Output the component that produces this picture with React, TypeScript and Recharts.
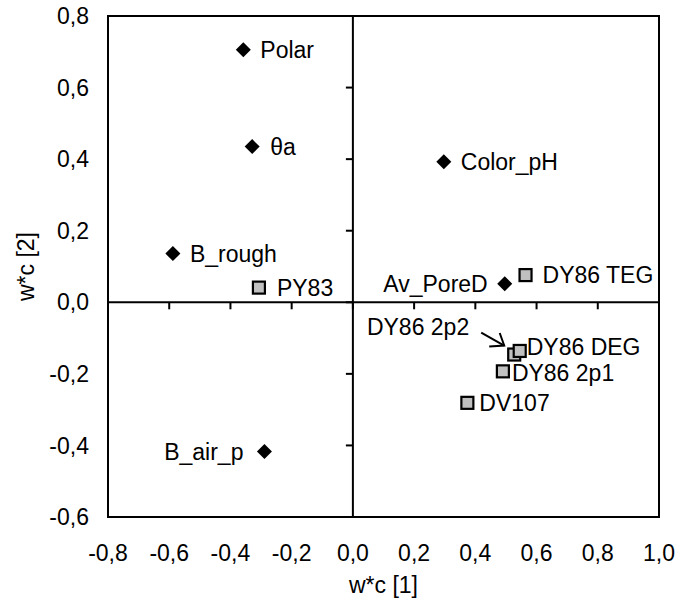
import React from 'react';
import { ScatterChart, Scatter, XAxis, YAxis, ReferenceLine, ReferenceArea, ReferenceDot } from 'recharts';

// Axis ticks
const xTicks = [-0.8, -0.6, -0.4, -0.2, 0, 0.2, 0.4, 0.6, 0.8, 1.0];
const yTicks = [-0.6, -0.4, -0.2, 0, 0.2, 0.4, 0.6, 0.8];

// Variable loadings (black diamonds)
const variableNames = ['Polar', 'θa', 'Color_pH', 'B_rough', 'Av_PoreD', 'B_air_p'];
const variableX = [-0.358, -0.329, 0.297, -0.588, 0.496, -0.289];
const variableY = [0.706, 0.435, 0.393, 0.136, 0.052, -0.417];

// Dye samples (grey squares)
const dyeNames = ['PY83', 'DY86 TEG', 'DY86 2p2', 'DY86 DEG', 'DY86 2p1', 'DV107'];
const dyeX = [-0.307, 0.564, 0.527, 0.545, 0.49, 0.374];
const dyeY = [0.041, 0.076, -0.146, -0.136, -0.193, -0.281];

const variableData = variableNames.map((name, i) => ({ name, x: variableX[i], y: variableY[i] }));
const dyeData = dyeNames.map((name, i) => ({ name, x: dyeX[i], y: dyeY[i] }));

const FONT = '"Liberation Sans", Arial, Helvetica, sans-serif';
const FONT_SIZE = 23;

type Placement = { dx: number; dy: number; anchor: 'start' | 'end'; arrow?: boolean };

// Where each point's name sits relative to its marker (pixels)
const labelPlacement: Record<string, Placement> = {
  Polar: { dx: 17, dy: 0, anchor: 'start' },
  'θa': { dx: 18, dy: 0, anchor: 'start' },
  Color_pH: { dx: 17, dy: 0, anchor: 'start' },
  B_rough: { dx: 17, dy: 0, anchor: 'start' },
  Av_PoreD: { dx: -17, dy: 0, anchor: 'end' },
  B_air_p: { dx: -21, dy: 0, anchor: 'end' },
  PY83: { dx: 18, dy: 0, anchor: 'start' },
  'DY86 TEG': { dx: 17, dy: 0, anchor: 'start' },
  'DY86 2p2': { dx: -45, dy: -28, anchor: 'end', arrow: true },
  'DY86 DEG': { dx: 7, dy: -4, anchor: 'start' },
  'DY86 2p1': { dx: 9, dy: 1, anchor: 'start' },
  DV107: { dx: 12, dy: 0, anchor: 'start' },
};

const fmt = (v: number) => v.toFixed(1).replace('.', ',');

const PointLabel = ({ name, cx, cy }: { name: string; cx: number; cy: number }) => {
  const p = labelPlacement[name] ?? { dx: 17, dy: 0, anchor: 'start' };
  return (
    <g>
      <text
        x={cx + p.dx}
        y={cy + p.dy}
        dy="0.36em"
        textAnchor={p.anchor}
        fontSize={FONT_SIZE}
        fontFamily={FONT}
        fill="#000"
      >
        {name}
      </text>
      {p.arrow && (
        <g stroke="#000" strokeWidth={2} fill="none">
          <line x1={cx - 33} y1={cy - 22} x2={cx - 10} y2={cy - 9} />
          <polyline points={`${cx - 14.5},${cy - 21.5} ${cx - 10},${cy - 9} ${cx - 25},${cy - 8}`} />
        </g>
      )}
    </g>
  );
};

const DiamondShape = (props: any) => {
  const { cx, cy, payload } = props;
  const r = 7.5;
  return (
    <g>
      <path d={`M${cx},${cy - r}L${cx + r},${cy}L${cx},${cy + r}L${cx - r},${cy}Z`} fill="#000" />
      <PointLabel name={payload.name} cx={cx} cy={cy} />
    </g>
  );
};

const SquareShape = (props: any) => {
  const { cx, cy, payload } = props;
  const s = 12;
  return (
    <g>
      <rect x={cx - s / 2} y={cy - s / 2} width={s} height={s} fill="#c0c0c0" stroke="#000" strokeWidth={2.2} />
      <PointLabel name={payload.name} cx={cx} cy={cy} />
    </g>
  );
};

const XTitle = (props: any) => {
  const vb = props.viewBox ?? { x: 108, y: 517, width: 551, height: 90 };
  return (
    <text
      x={vb.x + vb.width / 2}
      y={vb.y + 76}
      textAnchor="middle"
      fontSize={FONT_SIZE}
      fontFamily={FONT}
      fill="#000"
    >
      w*c [1]
    </text>
  );
};

const YTitle = (props: any) => {
  const vb = props.viewBox ?? { x: 0, y: 16, width: 108, height: 501 };
  const cx = 26;
  const cy = vb.y + vb.height / 2;
  return (
    <text
      x={cx}
      y={cy}
      dy="0.36em"
      transform={`rotate(-90 ${cx} ${cy})`}
      textAnchor="middle"
      fontSize={FONT_SIZE}
      fontFamily={FONT}
      fill="#000"
    >
      w*c [2]
    </text>
  );
};

const XTickMark = (props: any) => (
  <line x1={props.cx} y1={props.cy} x2={props.cx} y2={props.cy + 7} stroke="#000" strokeWidth={2} />
);
const YTickMark = (props: any) => (
  <line x1={props.cx} y1={props.cy} x2={props.cx - 7} y2={props.cy} stroke="#000" strokeWidth={2} />
);

export default function App() {
  const tickStyle = { fill: '#000', fontSize: FONT_SIZE, fontFamily: FONT };
  return (
    <div style={{ position: 'absolute', left: 0, top: 0, background: '#fff', fontFamily: FONT }}>
      <ScatterChart width={678} height={607} margin={{ top: 16, right: 19, left: 0, bottom: 0 }}>
        <XAxis
          type="number"
          dataKey="x"
          domain={[-0.8, 1.0]}
          ticks={xTicks}
          interval={0}
          tickFormatter={fmt}
          axisLine={false}
          tickLine={false}
          tickSize={0}
          tickMargin={28}
          height={90}
          tick={tickStyle}
          label={<XTitle />}
        />
        <YAxis
          type="number"
          dataKey="y"
          domain={[-0.6, 0.8]}
          ticks={yTicks}
          interval={0}
          tickFormatter={fmt}
          axisLine={false}
          tickLine={false}
          tickSize={0}
          tickMargin={19}
          width={108}
          tick={tickStyle}
          label={<YTitle />}
        />
        <ReferenceArea x1={-0.8} x2={1.0} y1={-0.6} y2={0.8} fill="none" fillOpacity={0} stroke="#000" strokeWidth={2} />
        <ReferenceLine x={0} stroke="#000" strokeWidth={2} />
        <ReferenceLine y={0} stroke="#000" strokeWidth={2} />
        {xTicks.map((t) => (
          <ReferenceDot key={`xt${t}`} x={t} y={0} r={0} shape={XTickMark} />
        ))}
        {yTicks.map((t) => (
          <ReferenceDot key={`yt${t}`} x={0} y={t} r={0} shape={YTickMark} />
        ))}
        <Scatter data={variableData} shape={DiamondShape} isAnimationActive={false} />
        <Scatter data={dyeData} shape={SquareShape} isAnimationActive={false} />
      </ScatterChart>
    </div>
  );
}
